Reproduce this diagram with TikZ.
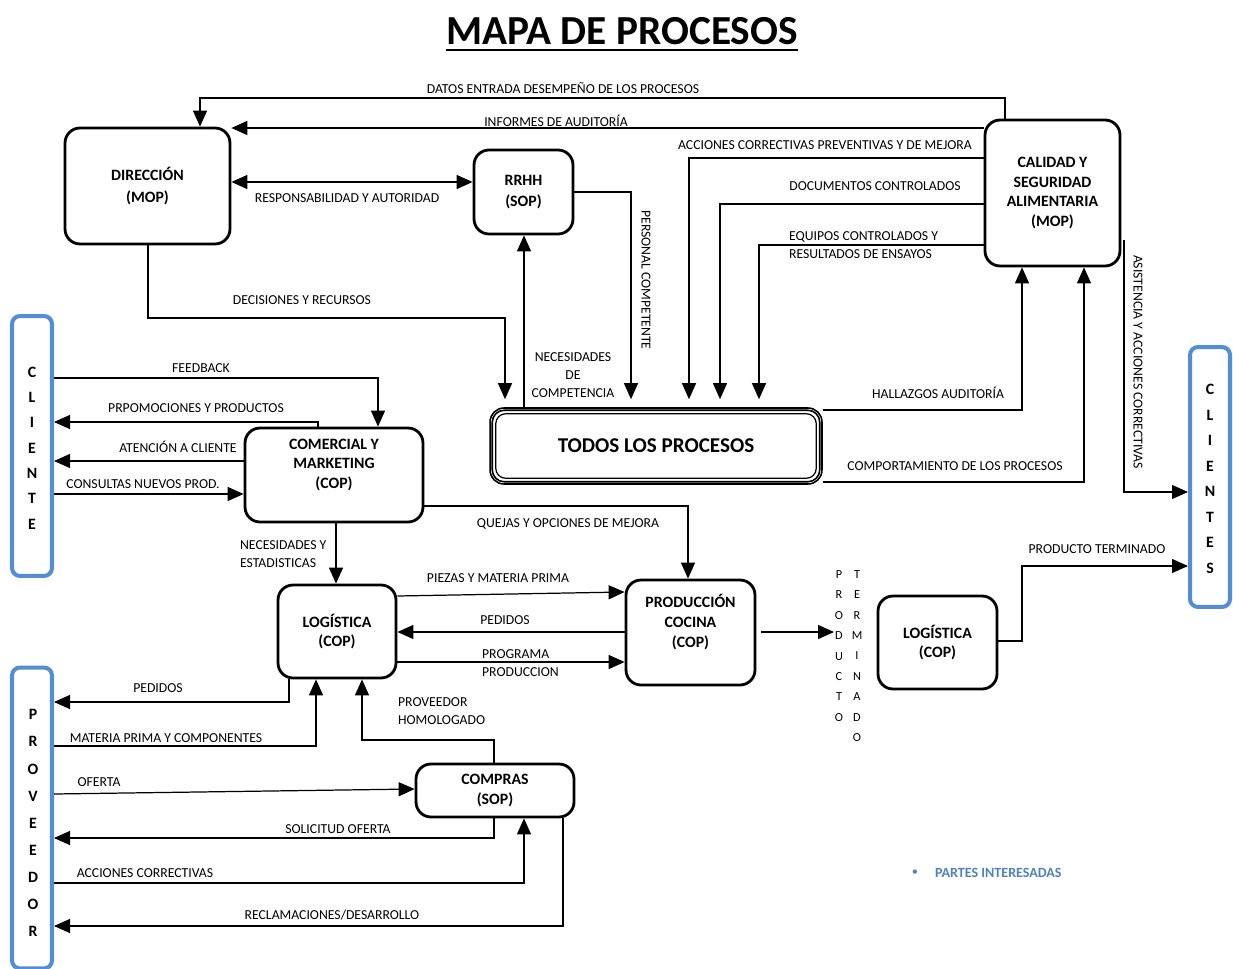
\documentclass[tikz,border=0pt]{standalone}
\usepackage{fontspec}
\setmainfont{Carlito}
\usetikzlibrary{arrows.meta}
\definecolor{bluebox}{RGB}{84,141,212}
\definecolor{bluetxt}{RGB}{79,129,189}
\newcommand\mpBox{\fontsize{9}{11.3}\selectfont\bfseries}
\newcommand\mpLbl{\fontsize{7.8}{10.2}\selectfont}
\begin{document}
\begin{tikzpicture}[x=0.02cm,y=-0.02cm,
  box/.style={draw, line width=1.6pt, rounded corners=0.3cm, align=center, font=\mpBox},
  bbox/.style={draw=bluebox, line width=2.3pt, rounded corners=0.16cm},
  lbl/.style={font=\mpLbl, inner sep=1pt},
  con/.style={line width=0.7pt},
  arr/.style={con, -{Triangle[length=0.32cm,width=0.28cm]}},
  darr/.style={con, {Triangle[length=0.32cm,width=0.28cm]}-{Triangle[length=0.32cm,width=0.28cm]}},
  stack/.style={align=center, inner sep=0pt}]
\useasboundingbox (0,0) rectangle (1233,969);

% title
\node[inner sep=0pt, anchor=base, font=\fontsize{23.5}{28}\selectfont\bfseries] (title) at (622,45) {MAPA DE PROCESOS};
\draw[line width=1.2pt] ([yshift=-0.1cm]title.base west) -- ([yshift=-0.1cm]title.base east);

% boxes
\node[box, minimum width=3.3cm, minimum height=2.32cm] (dir) at (147.5,186) {DIRECCIÓN\\[1pt](MOP)};
\node[box, minimum width=1.98cm, minimum height=1.68cm] (rrhh) at (523.5,192) {RRHH\\[1pt](SOP)};
\node[box, minimum width=2.7cm, minimum height=2.92cm] (cal) at (1052.5,193) {CALIDAD Y\\SEGURIDAD\\ALIMENTARIA\\(MOP)};
\node[draw, line width=0.9pt, rounded corners=0.28cm, minimum width=6.64cm, minimum height=1.52cm,
      font=\fontsize{12}{14}\selectfont\bfseries] (todos) at (656,446) {TODOS LOS PROCESOS};
\draw[line width=0.9pt, rounded corners=0.24cm] ([xshift=0.06cm,yshift=-0.06cm]todos.north west) rectangle ([xshift=-0.06cm,yshift=0.06cm]todos.south east);
\draw[line width=0.7pt, rounded corners=0.2cm] ([xshift=0.13cm,yshift=-0.13cm]todos.north west) rectangle ([xshift=-0.13cm,yshift=0.13cm]todos.south east);
\node[box, minimum width=3.56cm, minimum height=1.88cm] (com) at (334,475) {};
\node[align=center, font=\mpBox] (comt) at (334,465) {COMERCIAL Y\\MARKETING\\(COP)};
\node[box, minimum width=2.36cm, minimum height=1.86cm] (logl) at (337,631.5) {LOGÍSTICA\\(COP)};
\node[box, minimum width=2.58cm, minimum height=2.1cm] (prod) at (690.5,632.5) {};
\node[align=center, font=\mpBox] (prodt) at (690.5,622) {PRODUCCIÓN\\COCINA\\(COP)};
\node[box, minimum width=2.38cm, minimum height=1.86cm] (logr) at (937.5,642.5) {LOGÍSTICA\\(COP)};
\node[box, minimum width=3.16cm, minimum height=1.06cm] (comp) at (495,790.5) {COMPRAS\\(SOP)};

% blue boxes
\node[bbox, minimum width=0.8cm, minimum height=5.2cm] (cli) at (32,446) {};
\node[stack, font=\fontsize{9}{14.4}\selectfont\bfseries] (clit) at (32,448) {C\\L\\I\\E\\N\\T\\E};
\node[bbox, minimum width=0.8cm, minimum height=6.02cm] (prov) at (32,818) {};
\node[stack, font=\fontsize{9}{15.4}\selectfont\bfseries] (provt) at (33,823) {P\\R\\O\\V\\E\\E\\D\\O\\R};
\node[bbox, minimum width=0.8cm, minimum height=5.2cm] (clis) at (1210,477) {};
\node[stack, font=\fontsize{9}{14.5}\selectfont\bfseries] (clist) at (1210,479) {C\\L\\I\\E\\N\\T\\E\\S};

% helper coordinate just above TODOS
\coordinate (tt) at ([yshift=0.16cm]todos.north);

% connectors top
\draw[arr] (cal.north -| 1005,0) -- (1005,98) -| (dir.north -| 200,0);
\node[lbl] (l1) at (563,88) {DATOS ENTRADA DESEMPEÑO DE LOS PROCESOS};
\draw[arr] (cal.west |- 0,128) -- (dir.east |- 0,128);
\node[lbl] (l2) at (556,121) {INFORMES DE AUDITORÍA};
\draw[darr] (dir.east |- 0,182) -- (rrhh.west |- 0,182);
\node[lbl] (l3) at (347,198) {RESPONSABILIDAD Y AUTORIDAD};
\draw[arr] (cal.west |- 0,158) -| (tt -| 689,0);
\node[lbl] (l4) at (825,145) {ACCIONES CORRECTIVAS PREVENTIVAS Y DE MEJORA};
\draw[arr] (cal.west |- 0,204) -| (tt -| 720,0);
\node[lbl] (l5) at (875,186) {DOCUMENTOS CONTROLADOS};
\draw[arr] (cal.west |- 0,245) -| (tt -| 759,0);
\node[lbl, anchor=west, align=left] (l6) at (787,245) {EQUIPOS CONTROLADOS Y\\RESULTADOS DE ENSAYOS};
\draw[arr] (rrhh.east) -| (tt -| 631,0);
\node[lbl, rotate=-90] (l7) at (646,280) {PERSONAL COMPETENTE};
\draw[arr] (todos.north -| 524,0) -- (rrhh.south -| 524,0);
\node[lbl, align=center] (l8) at (573,375) {NECESIDADES\\DE\\COMPETENCIA};
\draw[arr] (dir.south -| 148,0) |- (505,318) -- (tt -| 505,0);
\node[lbl] (l9) at (302,300) {DECISIONES Y RECURSOS};
\draw[arr] (todos.east |- 0,410) -| (cal.south -| 1022,0);
\node[lbl] (l10) at (938,393) {HALLAZGOS AUDITORÍA};
\draw[arr] (todos.east |- 0,482) -| (cal.south -| 1084,0);
\node[lbl] (l11) at (955,466) {COMPORTAMIENTO DE LOS PROCESOS};
\draw[arr] (cal.east |- 0,240) ++(2.5,0) |- (clis.west |- 0,492);
\node[lbl, rotate=-90] (l12) at (1138,362) {ASISTENCIA Y ACCIONES CORRECTIVAS};

% cliente side
\draw[arr] (cli.east |- 0,378) -| (com.north -| 378,0);
\node[lbl] (l13) at (201,368) {FEEDBACK};
\draw[arr] (com.north -| 318,0) |- (cli.east |- 0,422);
\node[lbl] (l14) at (196,408) {PRPOMOCIONES Y PRODUCTOS};
\draw[arr] (com.west |- 0,461) -- (cli.east |- 0,461);
\node[lbl] (l15) at (178,447) {ATENCIÓN A CLIENTE};
\draw[arr] (cli.east |- 0,494) -- (com.west |- 0,494);
\node[lbl] (l16) at (143,484) {CONSULTAS NUEVOS PROD.};

% middle
\draw[arr] (com.south -| 336,0) -- (logl.north -| 336,0);
\node[lbl, anchor=west, align=left] (l17) at (238,554) {NECESIDADES Y\\ESTADISTICAS};
\draw[arr] (com.east |- 0,506) -| (prod.north -| 688,0);
\node[lbl] (l18) at (568,524) {QUEJAS Y OPCIONES DE MEJORA};
\draw[arr] (logl.east |- 0,596) -- (prod.west |- 0,592);
\node[lbl] (l19) at (498,578) {PIEZAS Y MATERIA PRIMA};
\draw[arr] (prod.west |- 0,632) -- (logl.east |- 0,632);
\node[lbl] (l20) at (505,620) {PEDIDOS};
\draw[arr] (logl.east |- 0,662) -- (prod.west |- 0,662);
\node[lbl, anchor=west, align=left] (l21) at (480,663) {PROGRAMA\\PRODUCCION};

% producto terminado
\coordinate (ptend) at (834,632);
\draw[arr] (prod.east |- 0,632) ++(5,0) -- (ptend);
\node[stack, font=\fontsize{7}{11.6}\selectfont] (pt1) at (839,646) {P\\R\\O\\D\\U\\C\\T\\O};
\node[stack, font=\fontsize{7}{11.6}\selectfont] (pt2) at (857,656) {T\\E\\R\\M\\I\\N\\A\\D\\O};
\draw[arr] (logr.east |- 0,641) -| (1022,566) -- (clis.west |- 0,566);
\node[lbl] (l22) at (1097,549) {PRODUCTO TERMINADO};

% proveedor side
\draw[arr] (logl.south -| 289,0) |- (prov.east |- 0,702);
\node[lbl] (l23) at (158,688) {PEDIDOS};
\draw[arr] (prov.east |- 0,746) -| (logl.south -| 316,0);
\node[lbl] (l24) at (166,738) {MATERIA PRIMA Y COMPONENTES};
\draw[arr] (comp.north -| 494,0) |- (362,740) -- (logl.south -| 362,0);
\node[lbl, anchor=west, align=left] (l25) at (396,711) {PROVEEDOR\\HOMOLOGADO};
\draw[arr] (prov.east |- 0,794) -- (comp.west |- 0,789);
\node[lbl] (l26) at (99,782) {OFERTA};
\draw[arr] (comp.south -| 494,0) |- (prov.east |- 0,838);
\node[lbl] (l27) at (338,829) {SOLICITUD OFERTA};
\draw[arr] (prov.east |- 0,883) -| (comp.south -| 524,0);
\node[lbl] (l28) at (145,873) {ACCIONES CORRECTIVAS};
\draw[arr] (comp.south -| 563,0) |- (prov.east |- 0,926);
\node[lbl] (l29) at (332,915) {RECLAMACIONES/DESARROLLO};

% legend
\node[font=\fontsize{7}{8}\selectfont, text=bluetxt] (bul) at (915,873) {•};
\node[lbl, anchor=west, text=bluetxt, font=\fontsize{8}{9}\selectfont\bfseries] (partes) at (933,873) {PARTES INTERESADAS};
\end{tikzpicture}
\end{document}
